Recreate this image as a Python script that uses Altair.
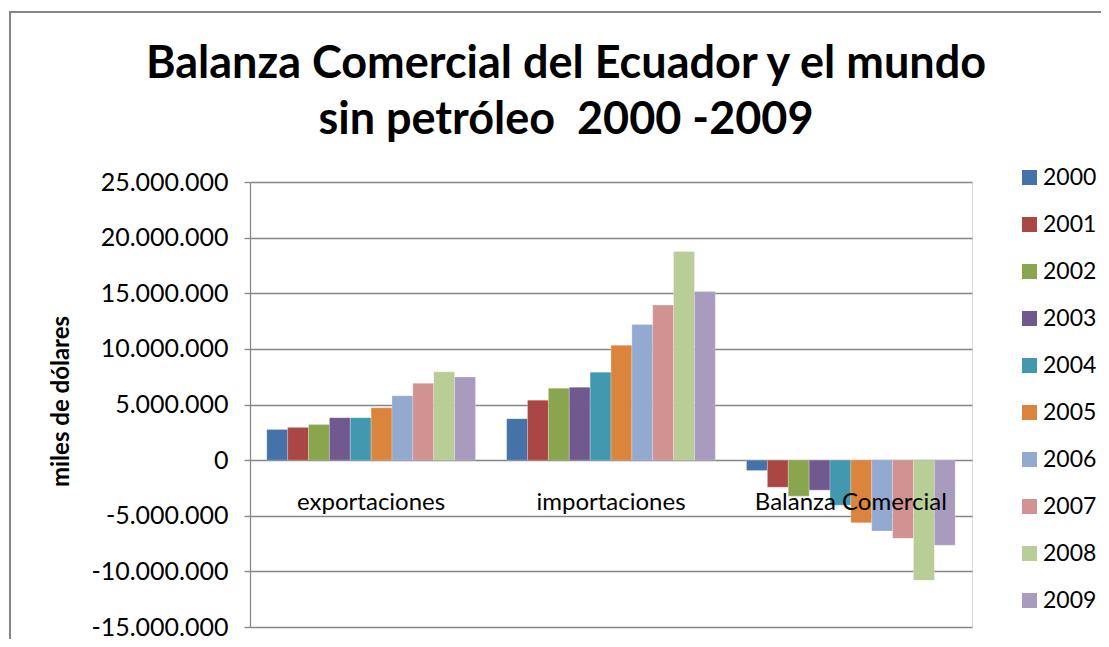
import altair as alt
import pandas as pd

categories = ["exportaciones", "importaciones", "Balanza Comercial"]
years = ["2000", "2001", "2002", "2003", "2004", "2005", "2006", "2007", "2008", "2009"]
exportaciones = [2760000, 2940000, 3210000, 3820000, 3820000, 4700000, 5790000, 6910000, 7940000, 7480000]
importaciones = [3730000, 5390000, 6450000, 6550000, 7910000, 10330000, 12180000, 13940000, 18760000, 15150000]
balanza = [-940000, -2430000, -3240000, -2700000, -4050000, -5620000, -6370000, -7030000, -10800000, -7650000]
colors = ["#4572A7", "#AA4643", "#89A54E", "#71588F", "#4198AF",
          "#DB843D", "#93A9CF", "#D19392", "#B9CD96", "#A99BBD"]
y_ticks = [-15000000, -10000000, -5000000, 0, 5000000, 10000000, 15000000, 20000000, 25000000]

rows = []
for cat, series in zip(categories, [exportaciones, importaciones, balanza]):
    for yr, v in zip(years, series):
        rows.append({"categoria": cat, "anio": yr, "valor": v})
df = pd.DataFrame(rows)
labels_df = pd.DataFrame({"categoria": categories, "cero": [0] * len(categories)})
frame_df = pd.DataFrame({"k": [0]})

FONT = "Lato"
GRAY = "#868686"

xscale = alt.Scale(domain=categories, paddingInner=0.13, paddingOuter=0.07)
yscale = alt.Scale(domain=[-15000000, 25000000], nice=False, zero=False)

label_expr = ("(datum.value < 0 ? '-' : '') + "
              "replace(format(abs(datum.value), ',d'), regexp(',', 'g'), '.')")

bars = alt.Chart(df).mark_bar(stroke="white", strokeWidth=0.4, strokeOpacity=0.6).encode(
    x=alt.X("categoria:N", scale=xscale, axis=None, sort=categories),
    xOffset=alt.XOffset("anio:N", sort=years, scale=alt.Scale(paddingInner=0, paddingOuter=0)),
    y=alt.Y("valor:Q", scale=yscale,
            axis=alt.Axis(values=y_ticks, grid=True, gridColor=GRAY, gridWidth=1.3,
                          domainColor=GRAY, domainWidth=1.3, tickColor=GRAY, tickWidth=1.3,
                          tickSize=6, labelFontSize=25, labelFont=FONT, labelColor="black",
                          labelPadding=16, labelExpr=label_expr,
                          title="miles de dólares", titleFont=FONT, titleFontSize=24,
                          titleFontWeight="bold", titleColor="black",
                          titleX=-189, titleY=219, titleAlign="center", titleBaseline="middle")),
    color=alt.Color("anio:N", sort=years,
                    scale=alt.Scale(domain=years, range=colors),
                    legend=alt.Legend(title=None, orient="none", legendX=768, legendY=-16,
                                      symbolType="square", symbolSize=225, symbolStrokeWidth=0,
                                      labelFontSize=23, labelFont=FONT, labelColor="black",
                                      labelOffset=2, rowPadding=23)),
)

cat_labels = alt.Chart(labels_df).mark_text(
    fontSize=24, font=FONT, color="black", baseline="alphabetic", dy=50
).encode(
    x=alt.X("categoria:N", scale=xscale, sort=categories),
    y=alt.Y("cero:Q", scale=yscale),
    text="categoria:N",
)

frame = alt.Chart(frame_df).mark_rect(fill=None, stroke=GRAY, strokeWidth=2).encode(
    x=alt.value(-240), x2=alt.value(900), y=alt.value(-170), y2=alt.value(520)
)

chart = alt.layer(frame, bars, cat_labels).properties(
    width=722, height=445,
    autosize=alt.AutoSizeParams(type="none"),
    padding={"left": 242, "top": 174, "right": 129, "bottom": 12},
    title=alt.TitleParams(
        text=["Balanza Comercial del Ecuador y el mundo", "sin petróleo \u00a02000 -2009"],
        font=FONT, fontSize=45, fontWeight="bold", color="black",
        anchor="middle", dx=-45, offset=-132, lineHeight=56),
).configure_view(stroke=None).configure(background="white")

chart.save("out.html", embed_options={"renderer": "svg", "actions": False})
